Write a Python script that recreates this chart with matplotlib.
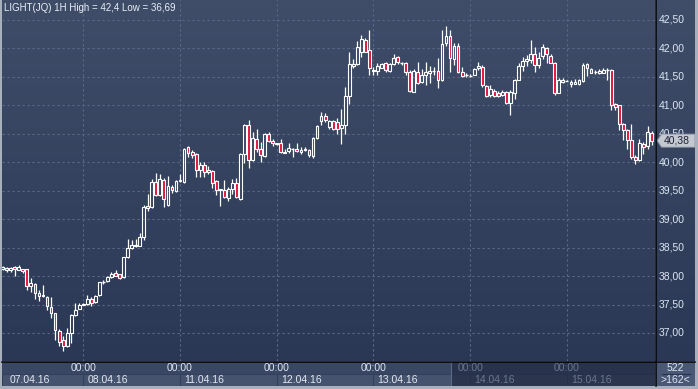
import matplotlib.pyplot as plt
import numpy as np
from matplotlib.colors import LinearSegmentedColormap
from matplotlib.patches import Rectangle, Polygon
from matplotlib.lines import Line2D

# hourly candles, oldest first (162 visible bars)
opens = [38.12, 38.15, 38.11, 38.16, 38.11, 38.12, 38.12, 37.82, 37.86, 37.70,
         37.66, 37.64, 37.46, 37.35, 37.04, 36.87, 36.77, 37.00, 37.32, 37.42,
         37.49, 37.51, 37.59, 37.54, 37.66, 37.89, 37.91, 37.99, 38.05, 38.03,
         37.98, 38.33, 38.50, 38.52, 38.53, 38.68, 39.23, 39.21, 39.65, 39.43,
         39.69, 39.25, 39.56, 39.50, 39.67, 39.65, 40.26, 40.18, 40.15, 39.86,
         39.96, 39.86, 39.84, 39.67, 39.53, 39.52, 39.38, 39.53, 39.63, 39.36,
         40.15, 40.66, 40.04, 40.40, 40.24, 40.11, 40.49, 40.37, 40.33, 40.33,
         40.18, 40.19, 40.24, 40.24, 40.18, 40.22, 40.22, 40.11, 40.43, 40.72,
         40.82, 40.62, 40.72, 40.71, 40.60, 40.66, 41.16, 41.70, 41.72, 41.93,
         42.15, 41.97, 41.62, 41.60, 41.66, 41.74, 41.60, 41.72, 41.85, 41.75,
         41.74, 41.58, 41.24, 41.58, 41.41, 41.53, 41.57, 41.60, 41.60, 41.44,
         42.09, 42.21, 41.82, 42.05, 41.59, 41.53, 41.52, 41.54, 41.65, 41.68,
         41.34, 41.18, 41.25, 41.22, 41.18, 41.24, 41.04, 41.22, 41.45, 41.69,
         41.78, 41.79, 41.90, 41.71, 41.86, 42.00, 41.87, 41.75, 41.22, 41.41,
         41.43, 41.38, 41.38, 41.37, 41.43, 41.72, 41.63, 41.59, 41.56, 41.57,
         41.62, 41.62, 41.02, 41.00, 40.68, 40.57, 40.39, 40.10, 40.04, 40.32,
         40.29, 40.52]
highs = [38.17, 38.16, 38.16, 38.17, 38.19, 38.13, 38.13, 37.96, 37.87, 37.76,
         37.85, 37.65, 37.63, 37.36, 37.07, 36.94, 37.09, 37.34, 37.52, 37.53,
         37.52, 37.67, 37.64, 37.67, 37.90, 37.93, 38.00, 38.08, 38.10, 38.04,
         38.34, 38.65, 38.64, 38.65, 38.75, 39.25, 39.44, 39.70, 39.82, 39.79,
         39.73, 39.75, 39.60, 39.68, 39.80, 40.25, 40.29, 40.21, 40.16, 40.00,
         40.00, 39.93, 39.86, 39.68, 39.53, 39.69, 39.56, 39.71, 39.72, 40.16,
         40.67, 40.74, 40.53, 40.59, 40.36, 40.51, 40.53, 40.40, 40.34, 40.40,
         40.23, 40.34, 40.25, 40.33, 40.27, 40.26, 40.23, 40.44, 40.65, 40.88,
         40.86, 40.75, 40.74, 40.78, 40.94, 41.32, 41.94, 41.82, 42.13, 42.24,
         42.18, 42.32, 41.68, 41.74, 41.74, 41.77, 41.74, 41.90, 41.87, 41.77,
         41.76, 41.62, 41.64, 41.76, 41.64, 41.76, 41.70, 41.68, 41.84, 42.32,
         42.40, 42.32, 42.09, 42.09, 41.68, 41.56, 41.55, 41.66, 41.76, 41.71,
         41.36, 41.35, 41.28, 41.25, 41.27, 41.25, 41.27, 41.47, 41.74, 41.85,
         41.88, 42.15, 42.03, 41.94, 42.08, 42.03, 41.91, 41.76, 41.48, 41.48,
         41.44, 41.44, 41.47, 41.47, 41.74, 41.74, 41.65, 41.62, 41.63, 41.65,
         41.66, 41.63, 41.05, 41.01, 40.69, 40.59, 40.67, 40.12, 40.40, 40.35,
         40.63, 40.55]
lows = [38.11, 38.07, 38.08, 38.00, 38.10, 38.06, 37.76, 37.72, 37.59, 37.56,
        37.64, 37.41, 37.26, 36.87, 36.78, 36.69, 36.75, 36.83, 37.30, 37.42,
        37.49, 37.50, 37.47, 37.53, 37.65, 37.86, 37.90, 37.97, 38.00, 37.95,
        37.97, 38.32, 38.48, 38.51, 38.52, 38.63, 39.14, 39.19, 39.40, 39.40,
        39.22, 39.23, 39.46, 39.48, 39.66, 39.63, 40.10, 40.08, 39.74, 39.74,
        39.74, 39.79, 39.54, 39.43, 39.23, 39.38, 39.32, 39.45, 39.37, 39.34,
        39.98, 39.90, 40.02, 40.18, 40.00, 40.10, 40.35, 40.28, 40.31, 40.16,
        40.16, 40.16, 40.10, 40.18, 40.15, 40.20, 40.10, 40.08, 40.41, 40.65,
        40.71, 40.59, 40.56, 40.50, 40.32, 40.50, 41.03, 41.65, 41.71, 41.85,
        41.93, 41.53, 41.53, 41.53, 41.65, 41.59, 41.59, 41.71, 41.72, 41.71,
        41.54, 41.24, 41.23, 41.38, 41.40, 41.36, 41.40, 41.53, 41.30, 41.42,
        42.05, 41.59, 41.71, 41.56, 41.50, 41.50, 41.50, 41.53, 41.62, 41.32,
        41.14, 41.15, 41.14, 41.14, 41.16, 41.02, 40.83, 41.12, 41.44, 41.60,
        41.69, 41.74, 41.59, 41.65, 41.82, 41.75, 41.74, 41.19, 41.21, 41.39,
        41.42, 41.32, 41.37, 41.35, 41.41, 41.51, 41.56, 41.55, 41.55, 41.56,
        41.45, 40.92, 40.91, 40.57, 40.39, 40.24, 40.06, 39.97, 40.02, 40.15,
        40.24, 40.30]
closes = [38.16, 38.11, 38.15, 38.12, 38.16, 38.09, 37.83, 37.87, 37.70, 37.65,
          37.65, 37.47, 37.35, 37.05, 36.85, 36.78, 37.00, 37.31, 37.41, 37.49,
          37.51, 37.60, 37.53, 37.65, 37.89, 37.89, 37.98, 38.04, 38.01, 37.96,
          38.33, 38.49, 38.55, 38.55, 38.68, 39.21, 39.19, 39.66, 39.42, 39.70,
          39.35, 39.58, 39.52, 39.67, 39.68, 40.24, 40.17, 40.13, 39.87, 39.95,
          39.83, 39.83, 39.63, 39.52, 39.52, 39.39, 39.53, 39.63, 39.39, 40.14,
          40.65, 40.04, 40.42, 40.24, 40.12, 40.50, 40.37, 40.33, 40.32, 40.18,
          40.17, 40.25, 40.24, 40.20, 40.22, 40.24, 40.12, 40.43, 40.64, 40.82,
          40.75, 40.72, 40.59, 40.59, 40.66, 41.16, 41.72, 41.72, 42.03, 42.16,
          41.94, 41.65, 41.61, 41.69, 41.72, 41.62, 41.72, 41.84, 41.76, 41.75,
          41.58, 41.25, 41.60, 41.40, 41.53, 41.58, 41.61, 41.60, 41.44, 42.07,
          42.22, 41.84, 42.04, 41.59, 41.51, 41.53, 41.52, 41.64, 41.70, 41.35,
          41.16, 41.29, 41.16, 41.16, 41.24, 41.04, 41.24, 41.45, 41.69, 41.78,
          41.81, 41.90, 41.71, 41.84, 42.02, 41.90, 41.75, 41.21, 41.45, 41.45,
          41.43, 41.41, 41.41, 41.44, 41.71, 41.65, 41.57, 41.59, 41.61, 41.62,
          41.62, 41.00, 40.97, 40.68, 40.56, 40.39, 40.10, 40.04, 40.34, 40.26,
          40.54, 40.38]

price_ticks = [37.0, 37.5, 38.0, 38.5, 39.0, 39.5, 40.0, 40.5, 41.0, 41.5, 42.0, 42.5]
first_day = '07.04.16'
day_starts = [20, 44, 68, 92, 116, 140]   # bar index of 00:00
day_labels = ['08.04.16', '11.04.16', '12.04.16', '13.04.16', '14.04.16', '15.04.16']
last_price = 40.38
total_bars = 522
visible_bars = 162

plt.rcParams['font.family'] = ['Liberation Sans', 'DejaVu Sans']

W, H = 698, 389
fig = plt.figure(figsize=(W / 100, H / 100), dpi=100, facecolor='#a9b0bd')


def px_axes(x0, y0, x1, y1):
    # box given in pixels, y measured from the top
    return fig.add_axes([x0 / W, 1 - y1 / H, (x1 - x0) / W, (y1 - y0) / H])


bg = LinearSegmentedColormap.from_list('bg', ['#2b3855', '#3f4d69'])
grad = np.linspace(0, 1, 256).reshape(-1, 1)[::-1]

ylo, yhi = 36.508, 42.851
xlo, xhi = -0.17, 161.86
tick_col = '#dde6f3'

# main price pane
ax = px_axes(2, 0, 655, 361)
ax.imshow(grad, extent=[0, 1, 0, 1], transform=ax.transAxes, aspect='auto', cmap=bg, zorder=0)
ax.set_xlim(xlo, xhi)
ax.set_ylim(ylo, yhi)
ax.axis('off')

for p in price_ticks:
    ax.axhline(p, color='#5b6986', lw=0.8, ls=(0, (2, 2.5)), zorder=1)
for d in day_starts:
    ax.axvline(d, color='#5b6986', lw=0.8, ls=(0, (2, 2.5)), zorder=1)

bw = 0.7
for i in range(len(opens)):
    o, h, l, c = opens[i], highs[i], lows[i], closes[i]
    top, bot = max(o, c), min(o, c)
    if top - bot < 0.006:
        ax.vlines(i, l, h, color='white', lw=0.9, zorder=3)
        ax.hlines((o + c) / 2, i - bw / 2, i + bw / 2, color='white', lw=1.0, zorder=3)
        continue
    ax.vlines(i, top, h, color='white', lw=0.9, zorder=3)
    ax.vlines(i, l, bot, color='white', lw=0.9, zorder=3)
    fc = '#e3103c' if c < o else 'none'
    ax.add_patch(Rectangle((i - bw / 2, bot), bw, top - bot, facecolor=fc,
                           edgecolor='white', lw=0.8, zorder=3))

title = 'LIGHT(JQ) 1H High = %s Low = %s' % (('%g' % max(highs)).replace('.', ','),
                                            ('%g' % min(lows)).replace('.', ','))
ax.text(2 / 653, 1 - 8 / 361, title, transform=ax.transAxes, ha='left', va='center',
        color='#e8eef6', fontsize=7, zorder=5)

# right price scale
ax_r = px_axes(656, 0, 695, 361)
ax_r.imshow(grad, extent=[0, 1, 0, 1], transform=ax_r.transAxes, aspect='auto', cmap=bg, zorder=0)
ax_r.set_xlim(0, 1)
ax_r.set_ylim(ylo, yhi)
ax_r.axis('off')
for p in price_ticks:
    ax_r.text(0.06, p, ('%.2f' % p).replace('.', ','), ha='left', va='center',
              color=tick_col, fontsize=7.5)
hh = 0.115
tag = Polygon([(0.03, last_price), (0.14, last_price + hh), (1.0, last_price + hh),
               (1.0, last_price - hh), (0.14, last_price - hh)],
              closed=True, facecolor='#c3c8d1', edgecolor='#8a93a5', lw=0.6, zorder=4)
ax_r.add_patch(tag)
ax_r.text(0.2, last_price, ('%.2f' % last_price).replace('.', ','), ha='left', va='center',
          color='#1c2333', fontsize=7.5, zorder=5)

# time scale
ax_t = px_axes(2, 362, 655, 386)
ax_t.set_facecolor('#3a4764')
ax_t.set_xlim(xlo, xhi)
ax_t.set_ylim(24, 0)
ax_t.set_xticks([])
ax_t.set_yticks([])
for s in ax_t.spines.values():
    s.set_visible(False)

edges = [xlo] + day_starts + [xhi]
for k in range(len(edges) - 1):
    ax_t.add_patch(Rectangle((edges[k], 11.5), edges[k + 1] - edges[k], 12.5,
                             facecolor='#46536f', edgecolor='#34405b', lw=0.8, zorder=1))

cut = 0.6876   # scroll marker inside the time scale
ax_t.add_patch(Rectangle((cut, 0), 1 - cut, 1, transform=ax_t.transAxes,
                         facecolor='#222c44', alpha=0.75, lw=0, zorder=2))
ax_t.axvline(xlo + cut * (xhi - xlo), color='#5e6a84', lw=0.8, zorder=3)

ax_t.text(1.8, 18, first_day, ha='left', va='center', color='#e2e8f0', fontsize=7.5, zorder=4)
for d, lab in zip(day_starts, day_labels):
    faded = (d - xlo) / (xhi - xlo) > cut
    col = '#6a7690' if faded else '#e2e8f0'
    ax_t.text(d, 6, '00:00', ha='center', va='center', color='#6a7690' if faded else tick_col,
              fontsize=7.5, zorder=4)
    ax_t.text(d + 1.0, 18, lab, ha='left', va='center', color=col, fontsize=7.5, zorder=4)

# bar counter box
ax_c = px_axes(656, 362, 695, 386)
ax_c.set_facecolor('#4a5775')
ax_c.set_xticks([])
ax_c.set_yticks([])
for s in ax_c.spines.values():
    s.set_visible(False)
ax_c.text(0.5, 0.74, str(total_bars), transform=ax_c.transAxes, ha='center', va='center',
          color=tick_col, fontsize=7.5)
ax_c.plot([0.15, 0.88], [0.5, 0.5], transform=ax_c.transAxes, color='#2a3350', lw=0.8)
ax_c.text(0.5, 0.25, '>%d<' % visible_bars, transform=ax_c.transAxes, ha='center', va='center',
          color=tick_col, fontsize=7.5)

# black separators between panes
fig.add_artist(Line2D([655.5 / W, 655.5 / W], [1 - 386 / H, 1], color='black', lw=1.1))
fig.add_artist(Line2D([2 / W, 695 / W], [1 - 361.5 / H, 1 - 361.5 / H], color='black', lw=1.1))

fig.savefig('out.png', dpi=100, facecolor=fig.get_facecolor())
